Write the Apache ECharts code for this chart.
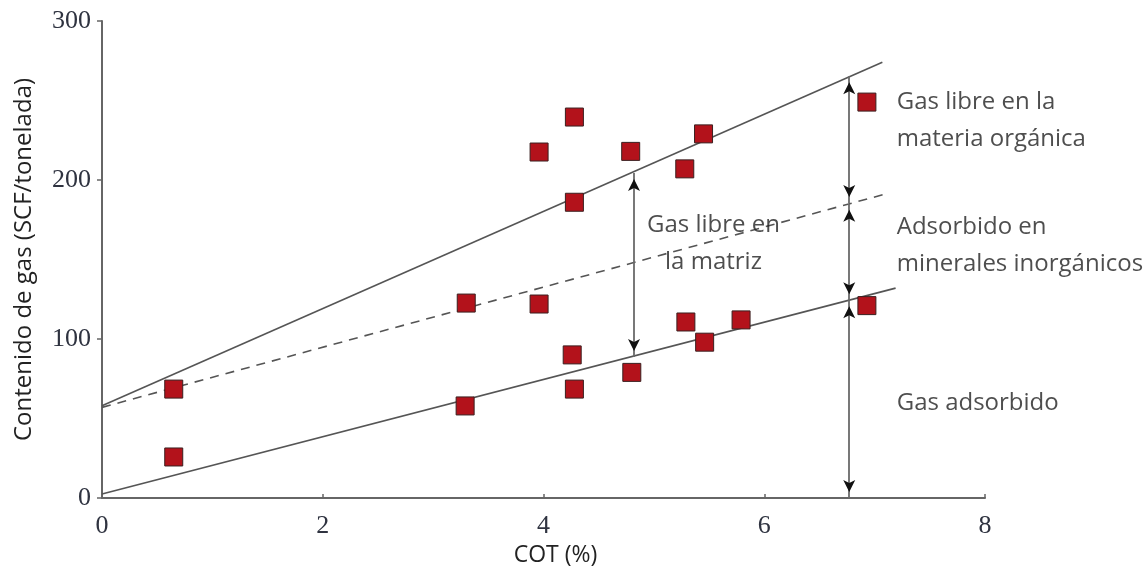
<!DOCTYPE html>
<html><head><meta charset="utf-8">
<script src="https://cdn.jsdelivr.net/npm/echarts@6/dist/echarts.min.js"></script>
<style>html,body{margin:0;padding:0;background:#fff}#c{width:1146px;height:569px}</style>
</head><body><div id="c"></div>
<script>
// Data points (COT %, gas content SCF/ton)
const cotValues = [0.65, 0.65, 3.30, 3.29, 3.96, 3.96, 4.28, 4.28, 4.26, 4.28, 4.79, 4.80, 5.28, 5.45, 5.29, 5.46, 5.79, 6.93, 6.93];
const gasValues = [68.5, 25.8, 122.6, 57.9, 217.6, 122, 239.6, 186, 90, 68.5, 218, 79, 207, 229, 110.7, 98, 112, 121, 249];

// Trend lines: [x0, y0] -> [x1, y1]
const upperLine = [[0, 58], [7.07, 274]];
const dashedLine = [[0, 57], [7.13, 191.8]];
const lowerLine = [[0, 2.5], [7.19, 132]];

// Double-headed arrows: [x, yTop, yBottom]
const arrows = [
  [4.82, 204.4, 88.7],
  [6.77, 265.2, 185.5],
  [6.77, 185.0, 124.4],
  [6.77, 124.4, 0]
];

// Annotation texts: [x, y, text, align]
const notes = [
  [5.54, 159.7, 'Gas libre en\nla matriz', 'center'],
  [7.20, 237.4, 'Gas libre en la\nmateria orgánica', 'left'],
  [7.20, 158.8, 'Adsorbido en\nminerales inorgánicos', 'left'],
  [7.20, 59.7, 'Gas adsorbido', 'left']
];

const xTicks = [0, 2, 4, 6, 8];
const yTicks = [0, 100, 200, 300];

const chart = echarts.init(document.getElementById('c'), null, {renderer: 'canvas'});
const axisFont = {fontFamily: 'Liberation Serif', fontSize: 26, color: '#2f3340'};
const lineStyleBase = {color: '#555', width: 1.6};
const arrowPairs = arrows.map(a => [{coord: [a[0], a[1]]}, {coord: [a[0], a[2]]}]);
const headH = 12;
const arrowHeads = [];
arrows.forEach(a => {
  arrowHeads.push({coord: [a[0], a[1]], symbolRotate: 0, symbolOffset: [0, headH / 2]});
  arrowHeads.push({coord: [a[0], a[2]], symbolRotate: 180, symbolOffset: [0, -headH / 2]});
});

const series = [
  {type: 'line', data: upperLine, symbol: 'none', lineStyle: Object.assign({}, lineStyleBase), silent: true, z: 2},
  {type: 'line', data: dashedLine, symbol: 'none', lineStyle: Object.assign({type: [9, 7]}, lineStyleBase), silent: true, z: 2},
  {type: 'line', data: lowerLine, symbol: 'none', lineStyle: Object.assign({}, lineStyleBase), silent: true, z: 2},
  {
    type: 'scatter', data: [], silent: true, z: 3,
    markLine: {
      silent: true, symbol: ['none', 'none'], animation: false,
      lineStyle: {color: '#6a6a6a', width: 1.8, type: 'solid'},
      label: {show: false},
      data: arrowPairs
    },
    markPoint: {
      silent: true, animation: false,
      symbol: 'arrow', symbolSize: [9, headH],
      itemStyle: {color: '#111'},
      label: {show: false},
      data: arrowHeads
    }
  },
  {
    type: 'scatter', data: cotValues.map((x, i) => [x, gasValues[i]]),
    symbol: 'rect', symbolSize: 18, z: 5,
    itemStyle: {color: '#b3121b', borderColor: '#3a2020', borderWidth: 1, opacity: 1}
  },
  {
    type: 'scatter', symbolSize: 0, silent: true, z: 6, clip: false,
    data: notes.map(n => ({
      value: [n[0], n[1]],
      label: {
        show: true, formatter: n[2], position: n[3] === 'left' ? 'right' : 'inside',
        distance: 0, align: n[3], verticalAlign: 'middle',
        fontFamily: 'Open Sans', fontSize: 24, lineHeight: 37, color: '#222'
      }
    }))
  }
];

chart.setOption({
  animation: false,
  grid: {left: 102, right: 161, top: 21, bottom: 71, containLabel: false, outerBoundsMode: 'none'},
  xAxis: {
    type: 'value', min: 0, max: 8, interval: 2,
    name: 'COT (%)', nameLocation: 'middle', nameGap: 46,
    nameTextStyle: {fontFamily: 'Open Sans', fontSize: 23, color: '#222', padding: [0, 0, 0, 24]},
    axisLine: {show: true, lineStyle: {color: '#666', width: 2}},
    axisTick: {show: true, inside: true, length: 4, lineStyle: {color: '#666', width: 1.5}},
    axisLabel: Object.assign({margin: 15}, axisFont),
    splitLine: {show: false}
  },
  yAxis: {
    type: 'value', min: 0, max: 300, interval: 100,
    name: 'Contenido de gas (SCF/tonelada)', nameLocation: 'middle', nameGap: 66,
    nameTextStyle: {fontFamily: 'Open Sans', fontSize: 24, color: '#222'},
    axisLine: {show: true, lineStyle: {color: '#666', width: 2}},
    axisTick: {show: true, length: 5, lineStyle: {color: '#666', width: 1.5}},
    axisLabel: Object.assign({margin: 11}, axisFont),
    splitLine: {show: false}
  },
  series: series
});
</script>
</body></html>
